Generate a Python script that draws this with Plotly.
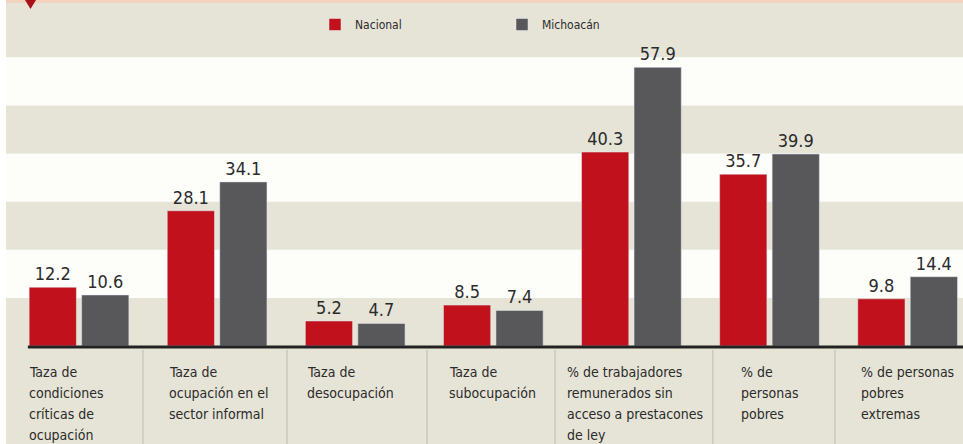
import plotly.graph_objects as go

# ---- data ----
categories = [
    "Taza de<br>condiciones<br>críticas de<br>ocupación",
    "Taza de<br>ocupación en el<br>sector informal",
    "Taza de<br>desocupación",
    "Taza de<br>subocupación",
    "% de trabajadores<br>remunerados sin<br>acceso a prestacones<br>de ley",
    "% de<br>personas<br>pobres",
    "% de personas<br>pobres<br>extremas",
]
nacional = [12.2, 28.1, 5.2, 8.5, 40.3, 35.7, 9.8]
michoacan = [10.6, 34.1, 4.7, 7.4, 57.9, 39.9, 14.4]
series_names = ["Nacional", "Michoacán"]

# ---- styling / layout constants ----
RED = "#c0111c"
GRAY = "#58585b"
BEIGE = "#e6e4d6"
WHITE = "#fdfdfa"
TEXT = "#2b2b2b"
FONT = "DejaVu Sans Condensed, Liberation Sans Narrow, Roboto, sans-serif"

W, H = 963, 444
ML, MR, MT, MB = 6, 0, 0, 98
X_RANGE = [-0.5286, 6.401]
Y_RANGE = [0, 71.9]
white_bands = [(10, 20), (30, 40), (50, 60)]
separator_units = [0.463, 1.506, 2.52, 3.447, 4.59, 5.474]
label_shift_px = [-52, -50, -50, -46, -66, -31, -49]
LINE_GAP = 21
FIRST_LINE = 26

x = list(range(len(categories)))

fig = go.Figure()
fig.add_trace(go.Bar(
    x=x, y=nacional, name=series_names[0], marker_color=RED,
    text=[f"{v:.1f}" for v in nacional], textposition="outside",
    outsidetextfont=dict(family=FONT, size=18, color=TEXT), cliponaxis=False,
))
fig.add_trace(go.Bar(
    x=x, y=michoacan, name=series_names[1], marker_color=GRAY,
    text=[f"{v:.1f}" for v in michoacan], textposition="outside",
    outsidetextfont=dict(family=FONT, size=18, color=TEXT), cliponaxis=False,
))

shapes = []
# white bands in plot
for y0, y1 in white_bands:
    shapes.append(dict(type="rect", xref="paper", yref="y", x0=0, x1=1, y0=y0, y1=y1,
                       fillcolor=WHITE, line=dict(width=0), layer="below"))
# left white strip
pw = W - ML - MR
ph = H - MT - MB
shapes.append(dict(type="rect", xref="paper", yref="paper", x0=-ML / pw, x1=0,
                   y0=-MB / ph, y1=1, fillcolor="white", line=dict(width=0), layer="below"))
# salmon strip at the very top
shapes.append(dict(type="rect", xref="paper", yref="paper", x0=0, x1=1,
                   y0=1 - 3 / ph, y1=1, fillcolor="#f3d2c2", line=dict(width=0), layer="below"))
# red pin marker at top-left
shapes.append(dict(type="path", xref="paper", yref="paper", xsizemode="pixel", ysizemode="pixel",
                   xanchor=0, yanchor=1, path="M 19,0 L 30,0 L 24.5,-9 Z",
                   fillcolor="#a8111a", line=dict(width=0)))
# separators in the label area
span = X_RANGE[1] - X_RANGE[0]
for u in separator_units:
    px = (u - X_RANGE[0]) / span
    shapes.append(dict(type="line", xref="paper", yref="paper", x0=px, x1=px,
                       y0=-4 / ph, y1=-MB / ph, line=dict(color="#bdbbb0", width=1)))
# baseline
shapes.append(dict(type="line", xref="paper", yref="paper",
                   x0=(-0.37 - X_RANGE[0]) / span, x1=1, y0=-1 / ph, y1=-1 / ph,
                   line=dict(color="#222222", width=3)))

annotations = []
for i, (lab, sh) in enumerate(zip(categories, label_shift_px)):
    for k, line in enumerate(lab.split("<br>")):
        annotations.append(dict(
            x=i, xref="x", y=0, yref="paper", text=line, showarrow=False,
            xanchor="left", yanchor="middle", xshift=sh, yshift=-(FIRST_LINE + k * LINE_GAP),
            font=dict(family=FONT, size=14, color=TEXT), align="left",
        ))

fig.update_layout(
    width=W, height=H,
    margin=dict(l=ML, r=MR, t=MT, b=MB, pad=0),
    paper_bgcolor=BEIGE, plot_bgcolor=BEIGE,
    barmode="group", bargap=0.24, bargroupgap=0.1,
    xaxis=dict(range=X_RANGE, showticklabels=False, showgrid=False, zeroline=False,
               showline=False, ticks=""),
    yaxis=dict(range=Y_RANGE, showticklabels=False, showgrid=False, zeroline=False,
               showline=False, ticks=""),
    showlegend=True,
    legend=dict(orientation="h", x=(315 - ML) / pw, xanchor="left", y=1 - 10 / ph, yanchor="top",
                bgcolor="rgba(0,0,0,0)", font=dict(family=FONT, size=12, color=TEXT),
                entrywidth=142, entrywidthmode="pixels", traceorder="normal"),
    shapes=shapes, annotations=annotations,
    font=dict(family=FONT, color=TEXT),
)

fig.write_html("out.html", config={"displayModeBar": False},
               post_script="document.body.style.margin='0';document.body.style.padding='0';")
